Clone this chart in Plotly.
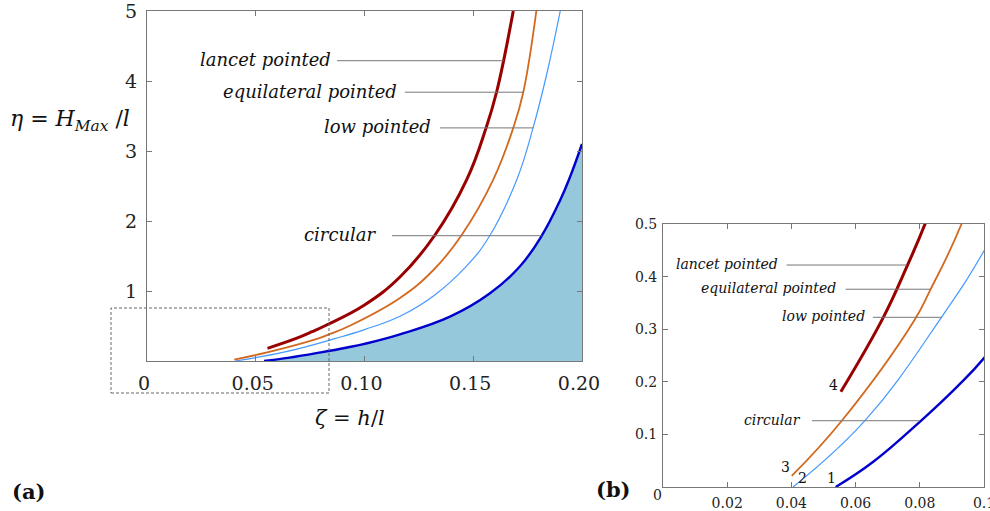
import plotly.graph_objects as go

# ---------------- data ----------------
# zeta = h/l, eta = H_max/l
circ_x = [0.0538, 0.0655, 0.080, 0.0915, 0.100, 0.1163, 0.1393, 0.1577, 0.1715, 0.1815, 0.190, 0.1945, 0.200]
circ_y = [0.0, 0.048, 0.124, 0.19, 0.245, 0.381, 0.633, 0.967, 1.353, 1.79, 2.30, 2.63, 3.10]

low_x = [0.0405, 0.0629, 0.0868, 0.100, 0.1163, 0.1317, 0.147, 0.157, 0.170, 0.1775, 0.1838, 0.190]
low_y = [0.0, 0.126, 0.323, 0.449, 0.640, 0.93, 1.36, 1.76, 2.59, 3.33, 4.10, 5.0]

equi_x = [0.0401, 0.0557, 0.0785, 0.0832, 0.093, 0.1163, 0.1317, 0.1447, 0.1592, 0.1684, 0.173, 0.179]
equi_y = [0.021, 0.126, 0.319, 0.374, 0.50, 0.90, 1.30, 1.80, 2.59, 3.33, 3.84, 5.0]

lanc_x = [0.0554, 0.0686, 0.0759, 0.0821, 0.100, 0.1163, 0.1324, 0.147, 0.1559, 0.1608, 0.1684]
lanc_y = [0.181, 0.322, 0.418, 0.507, 0.80, 1.20, 1.80, 2.59, 3.33, 3.85, 5.0]

# tick labels
a_xticks = [0, 0.05, 0.10, 0.15, 0.20]
a_xlabels = ["0", "0.05", "0.10", "0.15", "0.20"]
a_yticks = [1, 2, 3, 4, 5]
a_ylabels = ["1", "2", "3", "4", "5"]
b_xticks = [0.02, 0.04, 0.06, 0.08, 0.10]
b_xlabels = ["0.02", "0.04", "0.06", "0.08", "0.1"]
b_yticks = [0.1, 0.2, 0.3, 0.4, 0.5]
b_ylabels = ["0.1", "0.2", "0.3", "0.4", "0.5"]

# curve labels: name, text right end x, leader line start x, end x, y
a_labels = [
    ("lancet pointed", 0.0855, 0.0874, 0.1640, 4.29),
    ("equilateral pointed", 0.1159, 0.1186, 0.1730, 3.84),
    ("low pointed", 0.1315, 0.1347, 0.1775, 3.33),
    ("circular", 0.1067, 0.1126, 0.1815, 1.79),
]
b_labels = [
    ("lancet pointed", 0.0364, 0.0385, 0.0759, 0.422),
    ("equilateral pointed", 0.0545, 0.0569, 0.0832, 0.376),
    ("low pointed", 0.0635, 0.0654, 0.0868, 0.3226),
    ("circular", 0.0436, 0.0464, 0.0800, 0.126),
]
b_numbers = [("4", 0.0530, 0.194), ("3", 0.0382, 0.0386), ("2", 0.0435, 0.017), ("1", 0.0526, 0.017)]

# ---------------- styling ----------------
W, H = 990, 511
FONT = "DejaVu Serif"
GRAY = "#777777"
C_LANC = "#990000"
C_EQUI = "#d2691e"
C_LOW = "#4499ff"
C_CIRC = "#0000cc"
FILL = "#96c8dc"

def px(x):
    return x / W

def py(y):
    return 1 - y / H

fig = go.Figure()

series = [
    (circ_x, circ_y, C_CIRC, 2.4),
    (low_x, low_y, C_LOW, 1.2),
    (equi_x, equi_y, C_EQUI, 1.8),
    (lanc_x, lanc_y, C_LANC, 3.0),
]

# panel (a)
for i, (xs, ys, col, w) in enumerate(series):
    fig.add_trace(go.Scatter(
        x=xs, y=ys, mode="lines", xaxis="x", yaxis="y",
        line=dict(color=col, width=w, shape="spline", smoothing=1.2),
        fill="tozeroy" if i == 0 else None,
        fillcolor=FILL if i == 0 else None,
        showlegend=False, hoverinfo="skip"))

# panel (b)
for xs, ys, col, w in series:
    fig.add_trace(go.Scatter(
        x=xs, y=ys, mode="lines", xaxis="x2", yaxis="y2",
        line=dict(color=col, width=w, shape="spline", smoothing=1.2),
        showlegend=False, hoverinfo="skip"))

axis_common = dict(showline=True, linecolor=GRAY, linewidth=1, mirror="ticks",
                   ticks="inside", ticklen=5, tickcolor=GRAY, tickwidth=1,
                   showgrid=False, zeroline=False, tickmode="array", automargin=False,
                   ticklabeloverflow="allow")

fig.update_layout(
    width=W, height=H, margin=dict(l=0, r=0, t=0, b=0, pad=0, autoexpand=False),
    paper_bgcolor="white", plot_bgcolor="white",
    font=dict(family=FONT, color="#222222"),
    xaxis=dict(domain=[px(147), px(582)], range=[0, 0.2], anchor="y",
               tickvals=a_xticks, ticktext=a_xlabels,
               tickfont=dict(size=19, family=FONT, color="#222"),
               ticklabelstandoff=5, ticklabelshift=-3, **axis_common),
    yaxis=dict(domain=[py(361), py(11)], range=[0, 5], anchor="x",
               tickvals=a_yticks, ticktext=a_ylabels,
               tickfont=dict(size=19, family=FONT, color="#222"),
               ticklabelstandoff=5, **axis_common),
    xaxis2=dict(domain=[px(663), px(984)], range=[0, 0.1], anchor="y2",
                tickvals=b_xticks, ticktext=b_xlabels,
                tickfont=dict(size=14, family=FONT, color="#222"),
                ticklabelstandoff=3, **axis_common),
    yaxis2=dict(domain=[py(487), py(224)], range=[0, 0.5], anchor="x2",
                tickvals=b_yticks, ticktext=b_ylabels,
                tickfont=dict(size=14, family=FONT, color="#222"),
                ticklabelstandoff=2, **axis_common),
)

shapes = []
annotations = []

for name, tx, lx0, lx1, ly in a_labels:
    annotations.append(dict(x=tx, y=ly, xref="x", yref="y", text="<i>%s</i>" % name,
                            showarrow=False, xanchor="right", yanchor="middle", yshift=1,
                            font=dict(size=18, family=FONT, color="#111")))
    shapes.append(dict(type="line", xref="x", yref="y", x0=lx0, x1=lx1, y0=ly, y1=ly,
                       line=dict(color=GRAY, width=1)))

for name, tx, lx0, lx1, ly in b_labels:
    annotations.append(dict(x=tx, y=ly, xref="x2", yref="y2", text="<i>%s</i>" % name,
                            showarrow=False, xanchor="right", yanchor="middle", yshift=1,
                            font=dict(size=14, family=FONT, color="#111")))
    shapes.append(dict(type="line", xref="x2", yref="y2", x0=lx0, x1=lx1, y0=ly, y1=ly,
                       line=dict(color=GRAY, width=1)))

for t, nx, ny in b_numbers:
    annotations.append(dict(x=nx, y=ny, xref="x2", yref="y2", text=t, showarrow=False,
                            xanchor="center", yanchor="middle",
                            font=dict(size=14, family=FONT, color="#111")))

# y-axis "0" label of panel (b)
annotations.append(dict(x=px(657), y=py(495), xref="paper", yref="paper", text="0",
                        showarrow=False, xanchor="center", yanchor="middle",
                        font=dict(size=14, family=FONT, color="#222")))

# axis titles and panel letters
annotations += [
    dict(x=px(8), y=py(120), xref="paper", yref="paper",
         text="<i>η</i> = <i>H</i><sub><i>Max</i></sub> /<i>l</i>", showarrow=False,
         xanchor="left", yanchor="middle", font=dict(size=22, family=FONT, color="#111")),
    dict(x=px(350), y=py(418), xref="paper", yref="paper",
         text="<i>ζ</i> = <i>h</i>/<i>l</i>", showarrow=False,
         xanchor="center", yanchor="middle", font=dict(size=21, family=FONT, color="#111")),
    dict(x=px(28), y=py(491), xref="paper", yref="paper", text="<b>(a)</b>", showarrow=False,
         xanchor="center", yanchor="middle", font=dict(size=21, family=FONT, color="#111")),
    dict(x=px(613), y=py(489), xref="paper", yref="paper", text="<b>(b)</b>", showarrow=False,
         xanchor="center", yanchor="middle", font=dict(size=21, family=FONT, color="#111")),
]

# dashed box marking the zoomed region
shapes.append(dict(type="rect", xref="paper", yref="paper",
                   x0=px(111), x1=px(329), y0=py(393), y1=py(308),
                   line=dict(color="#666", width=1, dash="3px,2px")))

fig.update_layout(shapes=shapes, annotations=annotations)

fig.write_html("out.html")
